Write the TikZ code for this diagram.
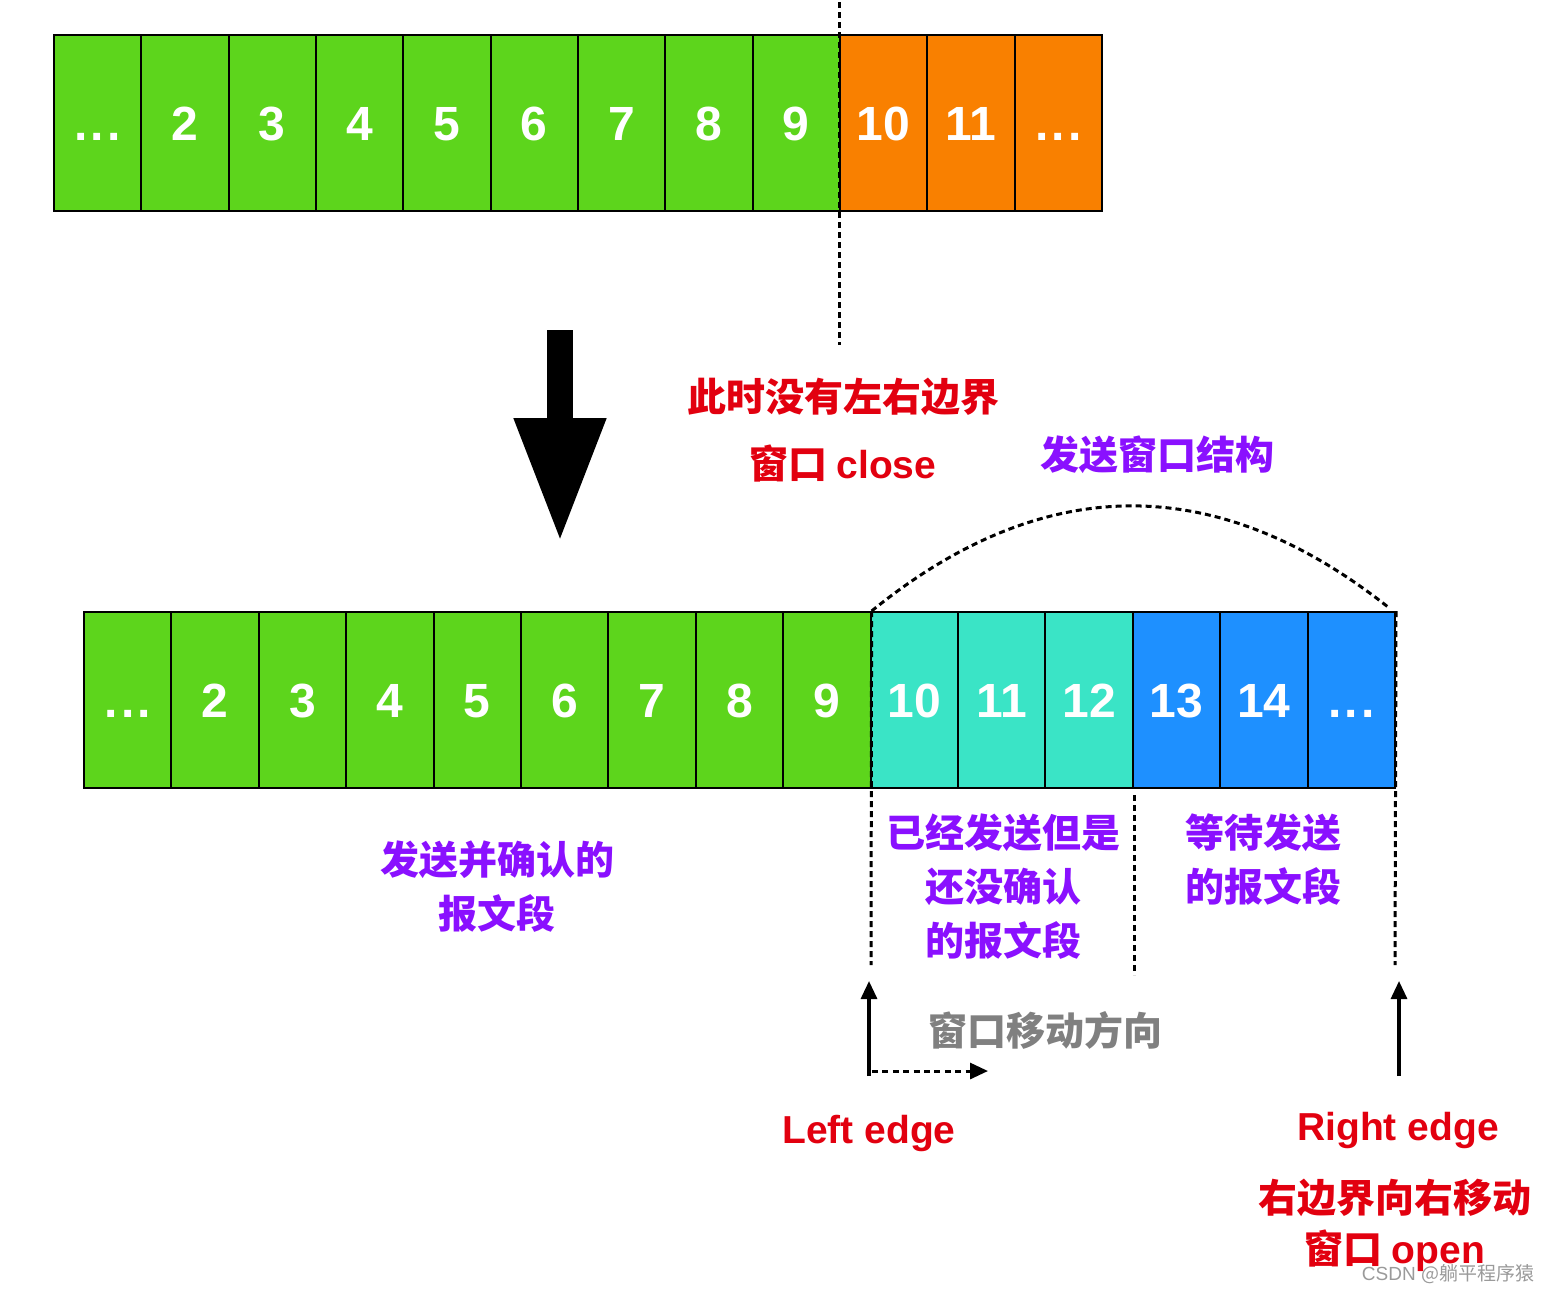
\documentclass[tikz,border=0pt]{standalone}
\usepackage{fontspec}
\setmainfont{Liberation Sans}
\newfontfamily\cjk{Noto Sans CJK SC}
\usepackage{xcolor}
\usepackage{tikz}
\usetikzlibrary{positioning, arrows.meta, calc}
\definecolor{swgreen}{HTML}{5DD51C}
\definecolor{sworange}{HTML}{F98000}
\definecolor{swcyan}{HTML}{3AE4C6}
\definecolor{swblue}{HTML}{1E90FF}
\definecolor{swred}{HTML}{E2000F}
\definecolor{swpurple}{HTML}{8A10FF}
\definecolor{swgray}{HTML}{808080}
\newcommand\celldots{.\kern1.5pt.\kern1.5pt.}

\begin{document}
\begin{tikzpicture}[
  x=0.5pt, y=-0.5pt,
  cell/.style={
    rectangle, draw=black, line width=1pt,
    minimum width=43.67pt, minimum height=88pt, inner sep=0pt,
    text height=17pt, text depth=0pt,
    font=\fontsize{24}{28}\selectfont\bfseries, text=white
  },
  bcell/.style={cell, minimum width=43.7pt},
  note/.style={font=\fontsize{19.5}{27}\selectfont\bfseries\cjk, align=center},
  latin/.style={font=\fontsize{19.5}{27}\selectfont\bfseries, align=center},
  bound/.style={dash pattern=on 3pt off 2pt, line width=1.5pt},
  up/.style={-{Triangle[width=8pt,length=9pt]}, line width=1.6pt},
]
\useasboundingbox (0,0) rectangle (1550,1292);

% top row (before)
\foreach \lab/\col [count=\i from 0] in {\celldots/swgreen, 2/swgreen, 3/swgreen, 4/swgreen, 5/swgreen, 6/swgreen,
    7/swgreen, 8/swgreen, 9/swgreen, 10/sworange, 11/sworange, \celldots/sworange}
  \node[cell, fill=\col] (t\i) at ({54+87.33*\i+43.67},123) {\lab};

% bottom row (after)
\foreach \lab/\col [count=\i from 0] in {\celldots/swgreen, 2/swgreen, 3/swgreen, 4/swgreen, 5/swgreen, 6/swgreen,
    7/swgreen, 8/swgreen, 9/swgreen, 10/swcyan, 11/swcyan, 12/swcyan, 13/swblue, 14/swblue, \celldots/swblue}
  \node[bcell, fill=\col] (b\i) at ({84+87.4*\i+43.7},700) {\lab};

% boundaries
\coordinate (closeTop) at (839,2);
\coordinate (closeBot) at (839,345);
\draw[bound] (closeTop) -- (closeBot);
\coordinate (leftBot) at (871,965);
\coordinate (midTop) at (1134,795);
\coordinate (midBot) at (1134,975);
\coordinate (rightBot) at (1395,965);
\draw[bound] (b8.north east) -- (leftBot);
\draw[bound] (midTop) -- (midBot);
\draw[bound] (b14.north east) -- (rightBot);
\draw[bound] ($(b9.north west)+(2,0)$) .. controls (1043,472) and (1216,471) .. ($(b14.north east)+(-8,-4)$);

% big arrow
\coordinate (arrTop) at (560,330);
\coordinate (arrBot) at (560,543);
\draw[line width=13pt, -{Triangle[width=42.5pt,length=62.5pt]}] (arrTop) -- (arrBot);

% texts
\node[note, text=swred] (noEdge) at (843,397) {此时没有左右边界};
\node[note, text=swred] (winClose) at (843,463) {窗口 {\normalfont\bfseries close}};
\node[note, text=swpurple] (sendWin) at (1157,455) {发送窗口结构};
\node[note, text=swpurple] (acked) at (497,887) {发送并确认的\\报文段};
\node[note, text=swpurple] (sentNack) at (1003,887) {已经发送但是\\还没确认\\的报文段};
\node[note, text=swpurple] (waiting) at (1263,860) {等待发送\\的报文段};

% edges
\coordinate (lEdgeBot) at (869,1076);
\coordinate (lEdgeTop) at (869,981);
\coordinate (rEdgeBot) at (1399,1076);
\coordinate (rEdgeTop) at (1399,981);
\draw[up] (lEdgeBot) -- (lEdgeTop);
\draw[up] (rEdgeBot) -- (rEdgeTop);
\coordinate (moveA) at (872,1071);
\coordinate (moveB) at (988,1071);
\draw[dash pattern=on 3pt off 2.2pt, line width=1.5pt, -{Triangle[width=8pt,length=9pt]}] (moveA) -- (moveB);
\node[note, text=swgray] (moveDir) at (1045,1030) {窗口移动方向};

\node[latin, text=swred] (leftEdge) at (869,1133) {Left edge};
\node[latin, text=swred] (rightEdge) at (1398,1130) {Right edge};
\node[note, text=swred] (rightMove) at (1395,1198) {右边界向右移动};
\node[note, text=swred] (winOpen) at (1395,1251) {窗口 {\normalfont\bfseries open}};
\node[font=\fontsize{9.5}{10}\selectfont, text=swgray!80, inner sep=1pt] (mark) at (1448,1274) {CSDN {\cjk @躺平程序猿}};
\end{tikzpicture}
\end{document}
